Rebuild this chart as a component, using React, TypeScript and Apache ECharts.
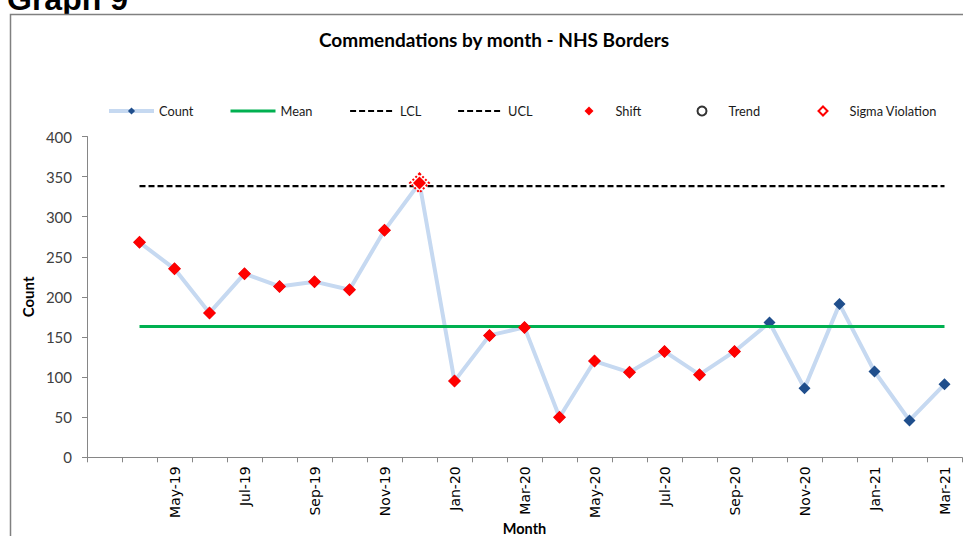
import React, { useEffect, useRef } from 'react';
import * as echarts from 'echarts';

const months = [
  'Mar-19', 'Apr-19', 'May-19', 'Jun-19', 'Jul-19', 'Aug-19', 'Sep-19', 'Oct-19', 'Nov-19', 'Dec-19',
  'Jan-20', 'Feb-20', 'Mar-20', 'Apr-20', 'May-20', 'Jun-20', 'Jul-20', 'Aug-20', 'Sep-20', 'Oct-20',
  'Nov-20', 'Dec-20', 'Jan-21', 'Feb-21', 'Mar-21',
];

const counts = [
  null, 268, 235, 180, 229, 213, 219, 209, 283, 342,
  95, 152, 162, 50, 120, 106, 132, 103, 132, 168,
  86, 191, 107, 46, 91,
];

const shift = [
  null, 268, 235, 180, 229, 213, 219, 209, 283, 342,
  95, 152, 162, 50, 120, 106, 132, 103, 132, null,
  null, null, null, null, null,
];

const sigma = [
  null, null, null, null, null, null, null, null, null, 342,
  null, null, null, null, null, null, null, null, null, null,
  null, null, null, null, null,
];

const trend: (number | null)[] = months.map(() => null);

const MEAN = 163;
const UCL = 338;
const LCL = -12;

const meanLine = months.map((_, i) => (i === 0 ? null : MEAN));
const uclLine = months.map((_, i) => (i === 0 ? null : UCL));
const lclLine = months.map((_, i) => (i === 0 ? null : LCL));

const yTicks = { min: 0, max: 400, interval: 50 };

const FONT = 'Lato';
const DASH = [6, 3];

function legendAt(name: string, left: number, extra: any = {}) {
  const { textPad, ...rest } = extra;
  return {
    data: [name],
    left,
    top: 104,
    itemWidth: 45,
    itemHeight: 10,
    padding: 0,
    symbolKeepAspect: true,
    textStyle: {
      fontFamily: FONT,
      fontSize: 12.8,
      color: '#1a1a1a',
      lineHeight: 14,
      padding: [0, 0, 0, textPad || 0],
    },
    ...rest,
  };
}

export default function App() {
  const ref = useRef<HTMLDivElement>(null);
  useEffect(() => {
    if (!ref.current) return;
    document.body.style.margin = '0';
    document.body.style.overflow = 'hidden';
    const chart = echarts.init(ref.current, undefined, { renderer: 'svg', width: 963, height: 536 });
    chart.setOption({
      animation: false,
      backgroundColor: '#ffffff',
      title: {
        text: 'Commendations by month - NHS Borders',
        left: 319,
        top: 30,
        padding: 0,
        textStyle: { fontFamily: FONT, fontWeight: 'bold', fontSize: 19, color: '#000' },
      },
      graphic: [
        {
          type: 'text',
          left: 7,
          top: -17,
          z: -2,
          style: { text: 'Graph 9', font: 'bold 32px "Liberation Sans", Arial, sans-serif', fill: '#000' },
        },
        {
          type: 'rect',
          z: -1,
          shape: { x: 10.5, y: 14.5, width: 960, height: 530 },
          style: { fill: '#ffffff', stroke: '#808080', lineWidth: 1.5 },
        },
      ],
      legend: [
        legendAt('Count', 107, { lineStyle: { width: 4 }, itemHeight: 9 }),
        legendAt('Mean', 229, { itemStyle: { opacity: 0 }, lineStyle: { width: 3 } }),
        legendAt('LCL', 349, { itemStyle: { opacity: 0 }, lineStyle: { width: 2.2, type: DASH } }),
        legendAt('UCL', 457, { itemStyle: { opacity: 0 }, lineStyle: { width: 2.2, type: DASH } }),
        legendAt('Shift', 584.5, { itemWidth: 9, itemHeight: 9, textPad: 17 }),
        legendAt('Trend', 696.5, { itemWidth: 9, itemHeight: 9, textPad: 17 }),
        legendAt('Sigma Violation', 817.5, { itemWidth: 9, itemHeight: 9, textPad: 17 }),
      ],
      grid: {
        left: 87,
        right: 1,
        top: 136.5,
        height: 320.8,
        containLabel: false,
        outerBoundsMode: 'none',
      },
      xAxis: {
        type: 'category',
        data: months,
        boundaryGap: true,
        name: 'Month',
        nameLocation: 'middle',
        nameGap: 64,
        nameMoveOverlap: false,
        nameTextStyle: { fontFamily: FONT, fontWeight: 'bold', fontSize: 14.5, color: '#000' },
        axisLine: { show: true, lineStyle: { color: '#868686', width: 1 } },
        axisTick: { show: true, interval: 0, length: 5, lineStyle: { color: '#868686' } },
        axisLabel: {
          interval: (index: number) => index % 2 === 0 && index > 0,
          rotate: 90,
          margin: 9,
          fontFamily: 'DejaVu Sans',
          fontSize: 14,
          color: '#000',
        },
        splitLine: { show: false },
      },
      yAxis: {
        type: 'value',
        min: yTicks.min,
        max: yTicks.max,
        interval: yTicks.interval,
        name: 'Count',
        nameLocation: 'middle',
        nameGap: 50,
        nameTextStyle: { fontFamily: FONT, fontWeight: 'bold', fontSize: 15, color: '#000' },
        axisLine: { show: true, lineStyle: { color: '#868686', width: 1 } },
        axisTick: { show: true, length: 5, lineStyle: { color: '#868686' } },
        axisLabel: { margin: 15, fontFamily: FONT, fontSize: 15, color: '#404040' },
        splitLine: { show: false },
      },
      series: [
        {
          name: 'Count',
          type: 'line',
          data: counts,
          z: 1,
          symbol: 'diamond',
          symbolSize: 12,
          showAllSymbol: true,
          connectNulls: false,
          lineStyle: { color: '#c6d9f1', width: 4 },
          itemStyle: { color: '#1f4e8c' },
        },
        {
          name: 'Mean',
          type: 'line',
          data: meanLine,
          z: 2,
          symbol: 'none',
          lineStyle: { color: '#00b050', width: 3 },
          itemStyle: { color: '#00b050' },
        },
        {
          name: 'LCL',
          type: 'line',
          data: lclLine,
          z: 2,
          clip: true,
          symbol: 'none',
          lineStyle: { color: '#000', width: 2.2, type: DASH },
          itemStyle: { color: '#000' },
        },
        {
          name: 'UCL',
          type: 'line',
          data: uclLine,
          z: 2,
          symbol: 'none',
          lineStyle: { color: '#000', width: 2.2, type: DASH },
          itemStyle: { color: '#000' },
        },
        {
          name: 'Shift',
          type: 'scatter',
          data: shift,
          z: 4,
          symbol: 'diamond',
          symbolSize: 13,
          symbolKeepAspect: true,
          itemStyle: { color: '#ff0000', opacity: 1 },
        },
        {
          name: 'Trend',
          type: 'scatter',
          data: trend,
          z: 4,
          symbol: 'emptyCircle',
          symbolSize: 8,
          symbolKeepAspect: true,
          itemStyle: { color: '#000', borderColor: '#000', borderWidth: 2 },
        },
        {
          name: 'Sigma Violation',
          type: 'scatter',
          data: sigma,
          z: 3,
          symbol: 'emptyDiamond',
          symbolSize: 19,
          symbolKeepAspect: true,
          itemStyle: { color: '#ff0000', borderColor: '#ff0000', borderWidth: 1.5, borderType: 'dotted', opacity: 1 },
        },
      ],
    });
    return () => chart.dispose();
  }, []);
  return <div ref={ref} style={{ width: 963, height: 536, overflow: 'hidden' }} />;
}
